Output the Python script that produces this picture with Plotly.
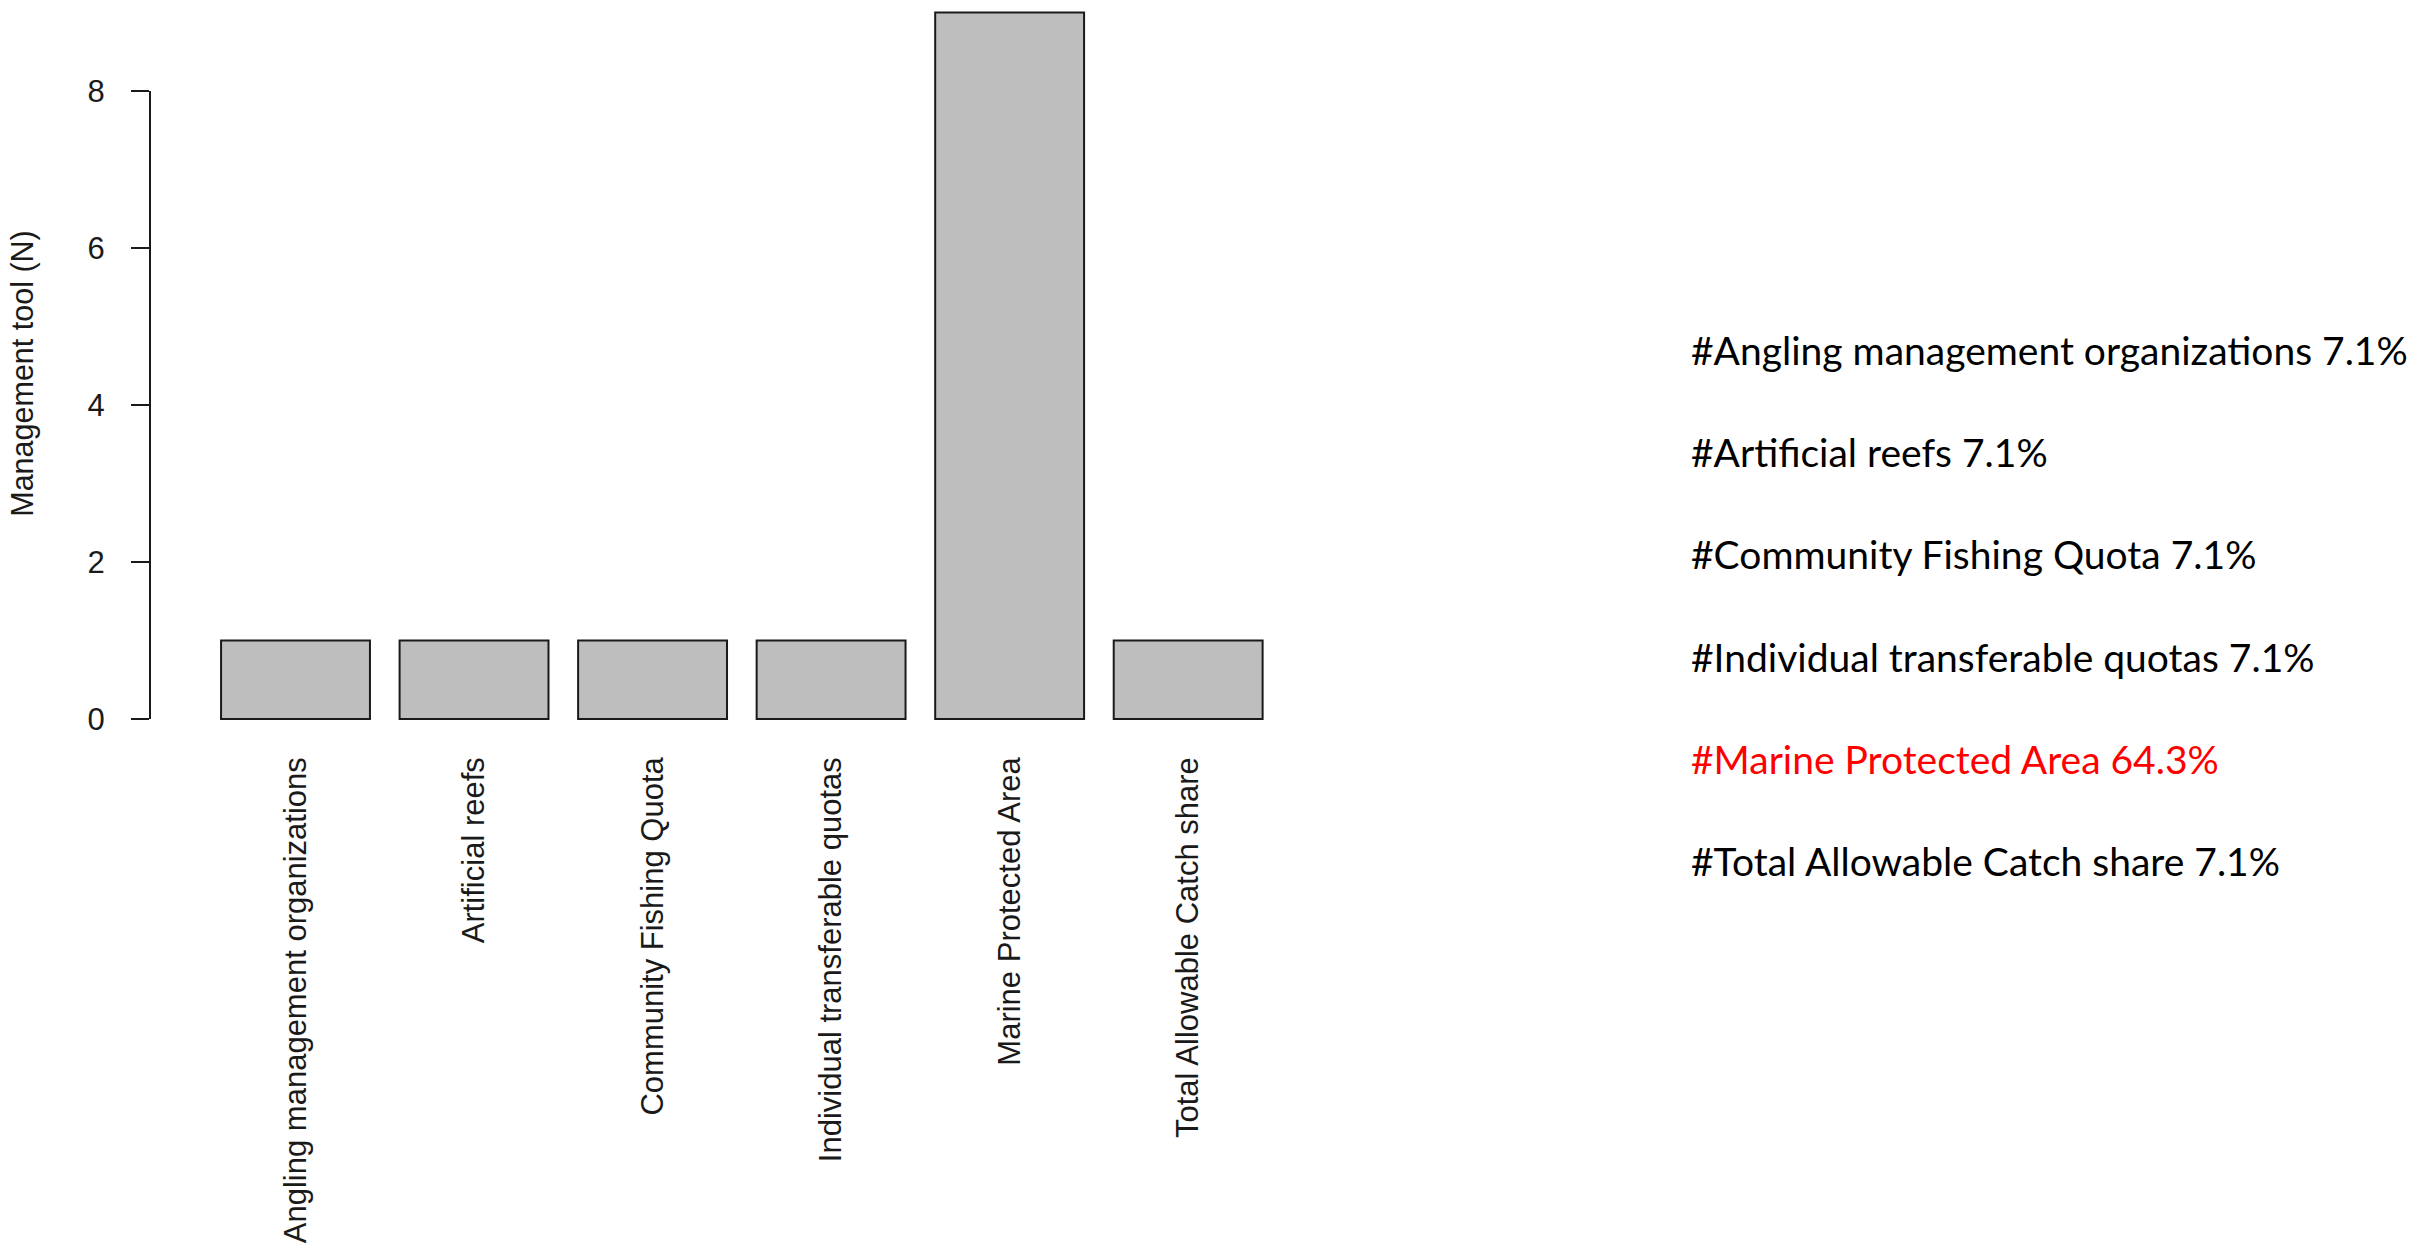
import plotly.graph_objects as go

# Management tools mentioned and how often each was cited
tools = [
    "Angling management organizations",
    "Artificial reefs",
    "Community Fishing Quota",
    "Individual transferable quotas",
    "Marine Protected Area",
    "Total Allowable Catch share",
]
counts = [1, 1, 1, 1, 9, 1]
y_ticks = [0, 2, 4, 6, 8]

total = sum(counts)
shares = [round(100 * c / total, 1) for c in counts]
top = max(counts)

# Page geometry (pixels)
W, H = 2419, 1251
left, right_edge = 150, 1306
plot_bottom = 747
ml, mr, mt, mb = left, W - right_edge, 0, H - plot_bottom

AXIS_FONT = "Liberation Sans, Arial, sans-serif"
axis_col = "#1a1a1a"

fig = go.Figure(
    go.Bar(
        x=tools,
        y=counts,
        marker=dict(color="#bebebe", line=dict(color="#1a1a1a", width=2)),
        showlegend=False,
        hoverinfo="x+y",
    )
)

fig.update_layout(
    width=W,
    height=H,
    margin=dict(l=ml, r=mr, t=mt, b=mb, pad=0),
    paper_bgcolor="white",
    plot_bgcolor="white",
    bargap=0.166,
    font=dict(family=AXIS_FONT, size=30, color=axis_col),
)

fig.update_xaxes(
    type="category",
    range=[-0.815, 5.66],
    showline=False,
    showgrid=False,
    zeroline=False,
    ticks="",
    tickangle=-90,
    tickfont=dict(family=AXIS_FONT, size=31, color=axis_col),
    ticklabelstandoff=3,
    automargin=False,
)

fig.update_yaxes(
    range=[-0.357, 9.159],
    tickvals=y_ticks,
    ticktext=[str(v) for v in y_ticks],
    showline=False,
    showgrid=False,
    zeroline=False,
    ticks="outside",
    ticklen=18,
    tickwidth=2,
    tickcolor=axis_col,
    tickfont=dict(family=AXIS_FONT, size=31, color=axis_col),
    ticklabelstandoff=20,
    title=dict(text="Management tool (N)", font=dict(family=AXIS_FONT, size=30.5, color=axis_col), standoff=44),
    automargin=False,
)

# R-style y axis line spanning only the tick range
fig.add_shape(
    type="line",
    xref="paper", yref="y",
    x0=0, x1=0, y0=min(y_ticks), y1=max(y_ticks),
    line=dict(color=axis_col, width=2),
)

# Share of each tool, listed to the right of the chart
plot_w = right_edge - left
text_x = (1689 - left) / plot_w
first_line_px, line_step_px = 350, 102.2
for i, (name, share, c) in enumerate(zip(tools, shares, counts)):
    ypx = first_line_px + i * line_step_px
    fig.add_annotation(
        xref="paper", yref="paper",
        x=text_x, y=(plot_bottom - ypx) / plot_bottom,
        xanchor="left", yanchor="middle",
        text=f"#{name} {share}%",
        showarrow=False,
        font=dict(family="Lato, Carlito, Calibri, sans-serif", size=39,
                  color="#ff0000" if c == top else "#000000"),
    )

fig.write_html("out.html")
